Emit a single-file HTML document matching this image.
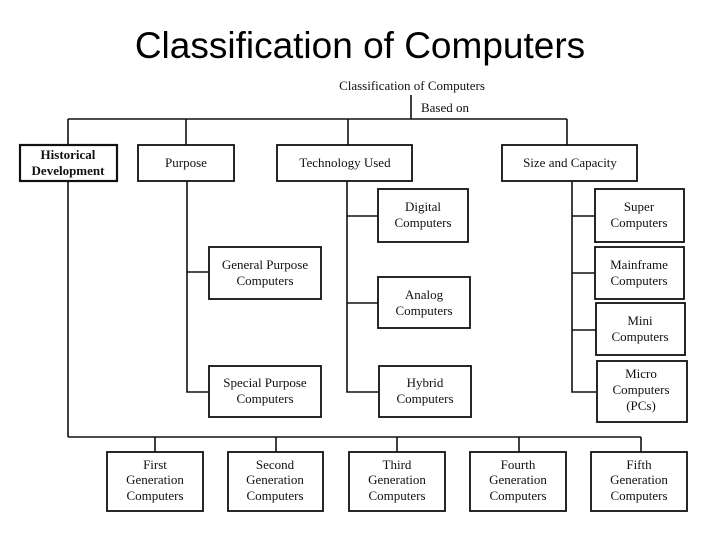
<!DOCTYPE html>
<html><head><meta charset="utf-8"><style>
html,body{margin:0;padding:0;background:#fff;width:720px;height:540px;overflow:hidden}
svg text{font-family:"Liberation Serif",serif;font-size:13px;fill:#111}
.t{font-family:"Liberation Sans",sans-serif;font-size:37px;fill:#000}
</style></head><body>
<svg width="720" height="540" viewBox="0 0 720 540" xmlns="http://www.w3.org/2000/svg">
<text class="t" x="360" y="58" text-anchor="middle">Classification of Computers</text>
<g stroke="#111" stroke-width="1.6" fill="none">
<line x1="411" y1="95" x2="411" y2="119"/>
<line x1="68" y1="119" x2="567" y2="119"/>
<line x1="68" y1="119" x2="68" y2="145"/>
<line x1="186" y1="119" x2="186" y2="145"/>
<line x1="348" y1="119" x2="348" y2="145"/>
<line x1="567" y1="119" x2="567" y2="145"/>
<line x1="68" y1="181" x2="68" y2="437"/>
<line x1="68" y1="437" x2="641" y2="437"/>
<line x1="155" y1="437" x2="155" y2="452"/>
<line x1="276" y1="437" x2="276" y2="452"/>
<line x1="397" y1="437" x2="397" y2="452"/>
<line x1="519" y1="437" x2="519" y2="452"/>
<line x1="641" y1="437" x2="641" y2="452"/>
<polyline points="187,181 187,392 210,392"/>
<line x1="187" y1="272" x2="210" y2="272"/>
<polyline points="347,181 347,392 379,392"/>
<line x1="347" y1="216" x2="379" y2="216"/>
<line x1="347" y1="303" x2="379" y2="303"/>
<polyline points="572,181 572,392 596,392"/>
<line x1="572" y1="216" x2="596" y2="216"/>
<line x1="572" y1="273" x2="596" y2="273"/>
<line x1="572" y1="330" x2="596" y2="330"/>
</g>
<g stroke="#111" stroke-width="1.8" fill="#fff">
<rect x="20" y="145" width="97" height="36" stroke-width="2.2"/>
<rect x="138" y="145" width="96" height="36"/>
<rect x="277" y="145" width="135" height="36"/>
<rect x="502" y="145" width="135" height="36"/>
<rect x="209" y="247" width="112" height="52"/>
<rect x="209" y="366" width="112" height="51"/>
<rect x="378" y="189" width="90" height="53"/>
<rect x="378" y="277" width="92" height="51"/>
<rect x="379" y="366" width="92" height="51"/>
<rect x="595" y="189" width="89" height="53"/>
<rect x="595" y="247" width="89" height="52"/>
<rect x="596" y="303" width="89" height="52"/>
<rect x="597" y="361" width="90" height="61"/>
<rect x="107" y="452" width="96" height="59"/>
<rect x="228" y="452" width="95" height="59"/>
<rect x="349" y="452" width="96" height="59"/>
<rect x="470" y="452" width="96" height="59"/>
<rect x="591" y="452" width="96" height="59"/>
</g>
<g text-anchor="middle">
<text x="412" y="90">Classification of Computers</text>
<text x="445" y="112">Based on</text>
<text x="68" y="159" font-weight="bold">Historical</text>
<text x="68" y="175" font-weight="bold">Development</text>
<text x="186" y="167">Purpose</text>
<text x="345" y="167">Technology Used</text>
<text x="570" y="167">Size and Capacity</text>
<text x="265" y="269">General Purpose</text>
<text x="265" y="285">Computers</text>
<text x="265" y="387">Special Purpose</text>
<text x="265" y="403">Computers</text>
<text x="423" y="211">Digital</text>
<text x="423" y="227">Computers</text>
<text x="424" y="299">Analog</text>
<text x="424" y="315">Computers</text>
<text x="425" y="387">Hybrid</text>
<text x="425" y="403">Computers</text>
<text x="639" y="211">Super</text>
<text x="639" y="227">Computers</text>
<text x="639" y="269">Mainframe</text>
<text x="639" y="285">Computers</text>
<text x="640" y="325">Mini</text>
<text x="640" y="341">Computers</text>
<text x="641" y="378">Micro</text>
<text x="641" y="394">Computers</text>
<text x="641" y="410">(PCs)</text>
<text x="155" y="469">First</text><text x="155" y="484">Generation</text><text x="155" y="500">Computers</text>
<text x="275" y="469">Second</text><text x="275" y="484">Generation</text><text x="275" y="500">Computers</text>
<text x="397" y="469">Third</text><text x="397" y="484">Generation</text><text x="397" y="500">Computers</text>
<text x="518" y="469">Fourth</text><text x="518" y="484">Generation</text><text x="518" y="500">Computers</text>
<text x="639" y="469">Fifth</text><text x="639" y="484">Generation</text><text x="639" y="500">Computers</text>
</g>
</svg>
</body></html>
